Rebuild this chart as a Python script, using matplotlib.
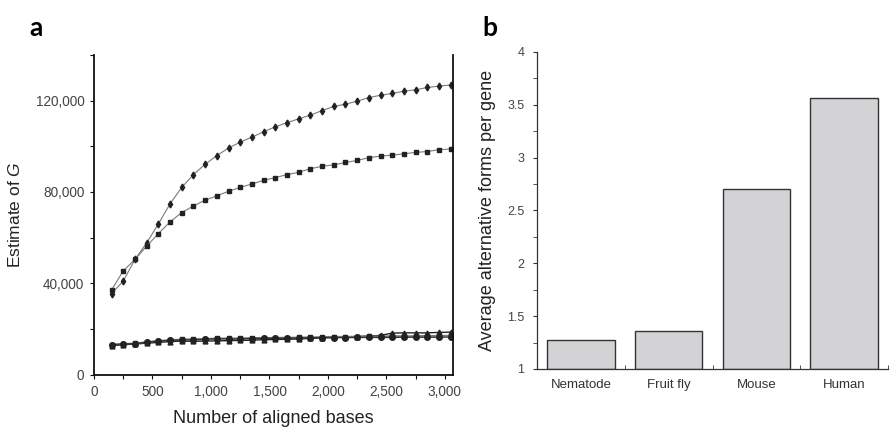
import numpy as np
import matplotlib.pyplot as plt
from matplotlib.ticker import MultipleLocator, FuncFormatter

plt.rcParams["font.family"] = ["Liberation Sans", "DejaVu Sans"]
plt.rcParams["mathtext.fontset"] = "custom"
plt.rcParams["mathtext.it"] = "Liberation Sans:italic"

# panel a: number of aligned bases
bases = [150, 250, 350, 450, 550, 650, 750, 850, 950, 1050,
         1150, 1250, 1350, 1450, 1550, 1650, 1750, 1850, 1950, 2050,
         2150, 2250, 2350, 2450, 2550, 2650, 2750, 2850, 2950, 3050]

serie_estrella = [35600, 41000, 50500, 57700, 66000, 74800, 82000, 87600, 92100, 95900,
                  99200, 101800, 104000, 106300, 108500, 110300, 112000, 113600, 115600, 117400,
                  118400, 119700, 121300, 122300, 123100, 124100, 124700, 125700, 126300, 126800]

serie_cuadrado = [37100, 45500, 50500, 56300, 61800, 66900, 71000, 73900, 76400, 78300,
                  80300, 82000, 83500, 85100, 86300, 87600, 88600, 90200, 91200, 91900,
                  92900, 93800, 95000, 95700, 96100, 96700, 97300, 97700, 98500, 98800]

serie_circulo = [13300, 13500, 13700, 14300, 14800, 15100, 15300, 15400, 15500, 15800,
                 15700, 15700, 15900, 16000, 16000, 16100, 16100, 16200, 16300, 16300,
                 16300, 16400, 16400, 16400, 16400, 16500, 16500, 16500, 16500, 16600]

serie_cuadrado_bajo = [13200, 13600, 13800, 14400, 14900, 15300, 15500, 15700, 15800, 16000,
                       16000, 16000, 16200, 16200, 16300, 16300, 16400, 16500, 16600, 16700,
                       16700, 16800, 16900, 16900, 17000, 17000, 17000, 17100, 17100, 17200]

serie_triangulo = [12800, 13200, 13500, 13900, 14200, 14600, 14800, 14700, 14800, 14900,
                   15000, 15100, 15200, 15400, 15500, 15600, 15700, 16000, 16200, 16400,
                   16600, 16800, 17000, 17300, 18300, 18400, 18400, 18400, 18600, 18700]

# panel b
especies = ["Nematode", "Fruit fly", "Mouse", "Human"]
formas_por_gen = [1.27, 1.36, 2.70, 3.56]


def miles(v, pos):
    return f"{int(v):,}"


def panel_a(ax):
    gris = "#7a7a7a"
    ax.plot(bases, serie_estrella, color=gris, lw=0.8, marker="d", ms=3.5,
            mfc="#222222", mec="#222222")
    ax.plot(bases, serie_cuadrado, color=gris, lw=0.8, marker="s", ms=3,
            mfc="#222222", mec="#222222")
    ax.plot(bases, serie_triangulo, color="#222222", lw=1.0, marker="^", ms=3.5,
            mfc="#222222", mec="#222222")
    ax.plot(bases, serie_cuadrado_bajo, color=gris, lw=1.2, marker="s", ms=3.5,
            mfc="#222222", mec="#222222")
    ax.plot(bases, serie_circulo, color="#333333", lw=1.0, marker="o", ms=4,
            mfc="#222222", mec="#222222")

    ax.set_xlim(0, 3070)
    ax.set_ylim(0, 140000)
    ax.xaxis.set_major_locator(MultipleLocator(500))
    ax.xaxis.set_minor_locator(MultipleLocator(250))
    ax.yaxis.set_major_locator(MultipleLocator(40000))
    ax.yaxis.set_minor_locator(MultipleLocator(20000))
    ax.xaxis.set_major_formatter(FuncFormatter(miles))
    ax.yaxis.set_major_formatter(FuncFormatter(miles))

    ax.spines["top"].set_visible(False)
    for lado in ["left", "bottom", "right"]:
        ax.spines[lado].set_linewidth(1.3)
        ax.spines[lado].set_color("#111111")

    ax.tick_params(which="both", direction="out", length=3, width=0.8,
                   colors="#111111", labelsize=9.8, labelcolor="#444444")
    ax.tick_params(axis="x", pad=4)
    ax.tick_params(axis="y", pad=4)
    ax.set_ylabel(r"Estimate of $\mathit{G}$", fontsize=12.5, color="#222222", labelpad=9)
    ax.set_xlabel("Number of aligned bases", fontsize=13, color="#222222", labelpad=8)


def panel_b(ax):
    pos = np.arange(len(especies))
    ax.bar(pos, [v - 1 for v in formas_por_gen], bottom=1, width=0.77,
           color="#d3d3d5", edgecolor="#333333", linewidth=1.0)

    ax.set_xlim(-0.5, len(especies) - 0.5)
    ax.set_ylim(1, 4)
    ax.set_xticks(pos)
    ax.set_xticklabels(especies)
    ax.set_xticks(np.arange(-0.5, len(especies)), minor=True)
    ax.yaxis.set_major_locator(MultipleLocator(0.5))
    ax.yaxis.set_minor_locator(MultipleLocator(0.25))
    ax.yaxis.set_major_formatter(FuncFormatter(lambda v, p: f"{v:g}"))

    ax.spines["top"].set_visible(False)
    ax.spines["right"].set_visible(False)
    for lado in ["left", "bottom"]:
        ax.spines[lado].set_linewidth(0.9)
        ax.spines[lado].set_color("#333333")

    ax.tick_params(axis="x", which="major", length=0, labelsize=9.5,
                   labelcolor="#333333", pad=7)
    ax.tick_params(axis="x", which="minor", length=3, direction="in",
                   color="#333333")
    ax.tick_params(axis="y", which="both", direction="out", length=3,
                   color="#333333", labelsize=9, labelcolor="#444444", pad=6)
    ax.set_ylabel("Average alternative forms per gene", fontsize=13,
                  color="#222222", labelpad=8)


def main():
    fig = plt.figure(figsize=(8.91, 4.28), dpi=100)

    ax_a = fig.add_axes([0.1055, 0.124, 0.403, 0.748])
    ax_b = fig.add_axes([0.6027, 0.138, 0.394, 0.741])

    panel_a(ax_a)
    panel_b(ax_b)

    fig.text(0.033, 0.915, "a", fontsize=19, fontweight="bold", family="Lato")
    fig.text(0.541, 0.915, "b", fontsize=19, fontweight="bold", family="Lato")

    plt.savefig("out.png", dpi=100)


if __name__ == "__main__":
    main()
